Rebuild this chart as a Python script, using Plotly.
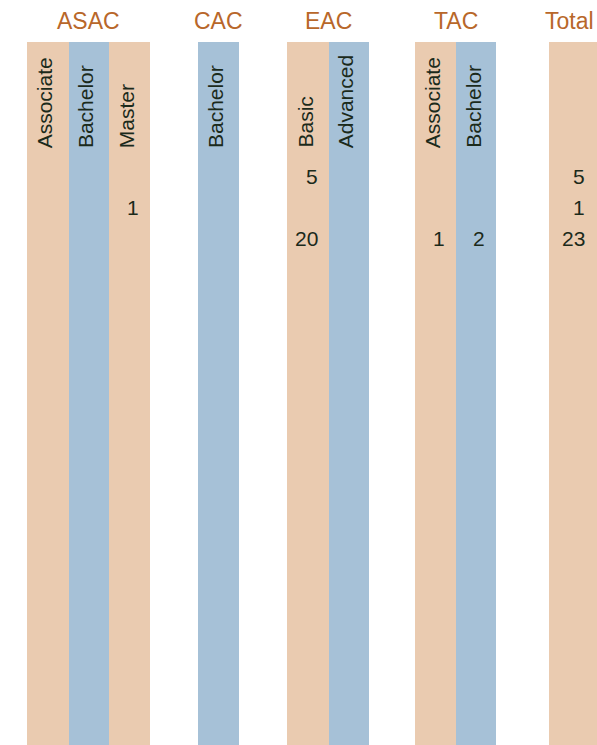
import plotly.graph_objects as go

# ---- data ----
groups = ["ASAC", "CAC", "EAC", "TAC", "Total"]
col_group = ["ASAC", "ASAC", "ASAC", "CAC", "EAC", "EAC", "TAC", "TAC", "Total"]
col_label = ["Associate", "Bachelor", "Master", "Bachelor", "Basic", "Advanced", "Associate", "Bachelor", ""]
row1 = [None, None, None, None, 5, None, None, None, 5]
row2 = [None, None, 1, None, None, None, None, None, 1]
row3 = [None, None, None, None, 20, None, 1, 2, 23]
rows = [row1, row2, row3]

# ---- layout (pixel geometry) ----
W, H = 597, 745
col_left = [27.2, 68.5, 108.7, 197.9, 287.4, 328.7, 415.2, 456.2, 548.8]
col_right = [68.5, 108.7, 149.6, 239.2, 328.7, 368.9, 456.2, 496.4, 600]
num_right = [59.5, 99.7, 140.6, 230.2, 319.7, 359.9, 447.2, 487.4, 587]
col_top = 42
row_y = [176, 207, 238]
label_bottom = 150
header_y = 21
TAN = "#EACBB0"
BLUE = "#A6C1D7"
HEAD = "#B8672A"
TXT = "#1B2A1B"
FONT = "Liberation Sans, Arial, sans-serif"

centers = [(l + r) / 2 for l, r in zip(col_left, col_right)]
widths = [r - l for l, r in zip(col_left, col_right)]
colors = [TAN if i % 2 == 0 else BLUE for i in range(len(col_label))]

fig = go.Figure()
fig.add_trace(go.Bar(
    x=centers, y=[H - col_top] * len(centers), base=[col_top] * len(centers),
    width=widths, marker=dict(color=colors, line=dict(width=0)),
    hoverinfo="skip", showlegend=False,
))

ann = []
# group headers
for g in groups:
    idx = [i for i, cg in enumerate(col_group) if cg == g]
    xc = (col_left[idx[0]] + min(col_right[idx[-1]], col_left[idx[-1]] + 41.3)) / 2
    ann.append(dict(x=xc, y=header_y, text=g, showarrow=False, xanchor="center", yanchor="middle",
                    font=dict(family=FONT, size=23, color=HEAD)))
# rotated sub labels
for i, lab in enumerate(col_label):
    if lab:
        ann.append(dict(x=centers[i], y=label_bottom, text=lab, textangle=-90, showarrow=False,
                        xanchor="center", yanchor="bottom", xshift=-3,
                        font=dict(family=FONT, size=21, color=TXT)))
# values
for r, vals in enumerate(rows):
    for i, v in enumerate(vals):
        if v is not None:
            ann.append(dict(x=num_right[i], y=row_y[r], text=str(v), showarrow=False, xanchor="right",
                            yanchor="middle", font=dict(family=FONT, size=21, color=TXT)))

fig.update_layout(
    width=W, height=H, margin=dict(l=0, r=0, t=0, b=0),
    paper_bgcolor="white", plot_bgcolor="white",
    xaxis=dict(range=[0, W], visible=False, fixedrange=True),
    yaxis=dict(range=[H, 0], visible=False, fixedrange=True),
    annotations=ann, bargap=0,
)
fig.write_html("out.html", config={"displayModeBar": False},
               post_script="document.body.style.margin='0';document.body.style.overflow='hidden';")
